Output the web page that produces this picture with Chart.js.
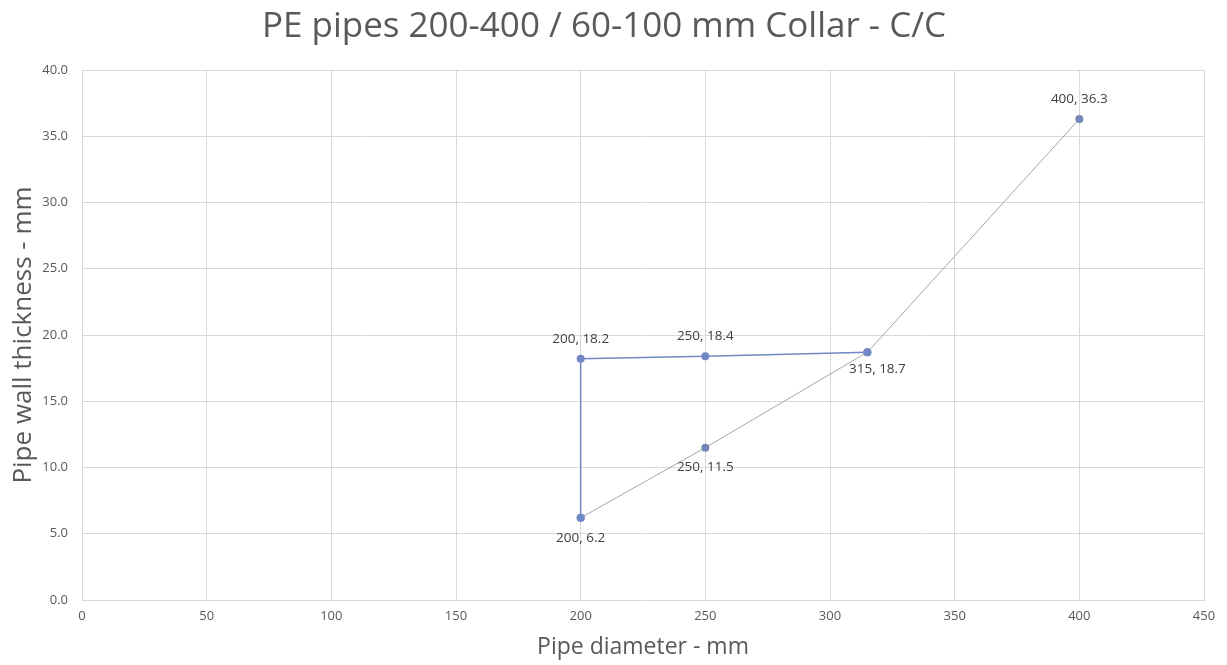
<!DOCTYPE html>
<html>
<head>
<meta charset="utf-8">
<script src="https://cdn.jsdelivr.net/npm/chart.js@4/dist/chart.umd.min.js"></script>
<style>
  html, body { margin: 0; padding: 0; background: #fff; }
  #wrap { width: 1227px; height: 665px; }
</style>
</head>
<body>
<div id="wrap"><canvas id="chart" width="1227" height="665"></canvas></div>
<script>
// data
const blueX = [200, 200, 250, 315];
const blueY = [6.2, 18.2, 18.4, 18.7];
const greyX = [200, 250, 315, 400];
const greyY = [6.2, 11.5, 18.7, 36.3];
// which side of the point each label sits on
const blueLabelSide = ['below', 'above', 'above', 'belowRight'];
const greyLabelSide = ['none', 'below', 'none', 'above'];
const xTicks = [0, 50, 100, 150, 200, 250, 300, 350, 400, 450];
const yTicks = [0, 5, 10, 15, 20, 25, 30, 35, 40];

const FONT = "'Open Sans', 'Noto Sans', sans-serif";
const TXT = '#595959';

function toPoints(xs, ys){
  return xs.map((x, i) => ({x: x, y: ys[i]}));
}

const pointLabels = {
  id: 'pointLabels',
  afterDatasetsDraw(chart){
    const ctx = chart.ctx;
    ctx.save();
    ctx.font = '13.5px ' + FONT;
    ctx.fillStyle = '#404040';
    ctx.textAlign = 'center';
    ctx.textBaseline = 'middle';
    chart.data.datasets.forEach((ds, di) => {
      const meta = chart.getDatasetMeta(di);
      meta.data.forEach((pt, i) => {
        const side = ds.labelSide[i];
        if (side === 'none') return;
        const txt = ds.data[i].x + ', ' + ds.data[i].y.toFixed(1);
        let dx = 0, dy = 0;
        if (side === 'above') dy = -20;
        if (side === 'below') dy = 20;
        if (side === 'belowRight') { dx = 10; dy = 17; }
        ctx.fillText(txt, pt.x + dx, pt.y + dy);
      });
    });
    ctx.restore();
  }
};

const ctx = document.querySelector('#chart').getContext('2d');
const myChart = new Chart(ctx, {
  type: 'scatter',
  data: {
    datasets: [{
      label: 'blue',
      data: toPoints(blueX, blueY),
      labelSide: blueLabelSide,
      showLine: true,
      borderColor: '#7088C4',
      backgroundColor: '#7088C4',
      borderWidth: 1.5,
      pointRadius: 4,
      pointBorderWidth: 0
    }, {
      label: 'grey',
      data: toPoints(greyX, greyY),
      labelSide: greyLabelSide,
      showLine: true,
      borderColor: '#A6A6A6',
      backgroundColor: '#7585B5',
      borderWidth: 1,
      pointRadius: 4,
      pointBorderWidth: 0
    }]
  },
  options: {
    responsive: false,
    animation: false,
    layout: { padding: { right: 23, left: 4, bottom: 0 } },
    plugins: {
      legend: { display: false },
      tooltip: { enabled: false },
      title: {
        display: true,
        text: 'PE pipes 200-400 / 60-100 mm Collar - C/C',
        color: TXT,
        font: { family: FONT, size: 35, weight: 'normal' },
        padding: { top: 6, bottom: 22 }
      }
    },
    scales: {
      x: {
        type: 'linear',
        min: 0,
        max: 450,
        afterBuildTicks: axis => { axis.ticks = xTicks.map(v => ({value: v})); },
        afterFit: axis => { axis.height = 65; },
        ticks: {
          color: TXT,
          font: { family: FONT, size: 13 },
          padding: 8,
          maxRotation: 0
        },
        grid: { color: '#D9D9D9', drawTicks: false },
        border: { color: '#D9D9D9' },
        title: {
          display: true,
          text: 'Pipe diameter - mm',
          color: TXT,
          font: { family: FONT, size: 23 },
          padding: { top: 2 }
        }
      },
      y: {
        type: 'linear',
        min: 0,
        max: 40,
        afterBuildTicks: axis => { axis.ticks = yTicks.map(v => ({value: v})); },
        afterFit: axis => { axis.width = 78; },
        ticks: {
          color: TXT,
          font: { family: FONT, size: 13 },
          padding: 14,
          callback: v => v.toFixed(1)
        },
        grid: { color: '#D9D9D9', drawTicks: false },
        border: { color: '#D9D9D9' },
        title: {
          display: true,
          text: 'Pipe wall thickness - mm',
          color: TXT,
          font: { family: FONT, size: 26 },
          padding: { bottom: 2 }
        }
      }
    }
  },
  plugins: [pointLabels]
});
</script>
</body>
</html>
